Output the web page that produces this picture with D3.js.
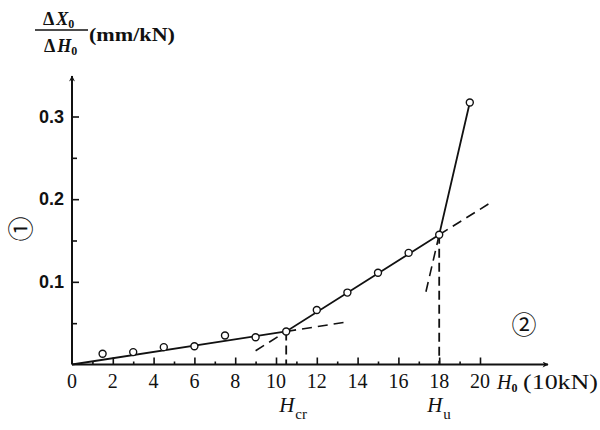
<!DOCTYPE html>
<html>
<head>
<meta charset="utf-8">
<script src="https://cdn.jsdelivr.net/npm/d3@7"></script>
<style>
body{margin:0;background:#fff;}
svg text{font-family:"Liberation Serif","Times New Roman",serif;fill:#111;}
</style>
</head>
<body>
<svg id="c" width="600" height="430"></svg>
<script>
// Data
const loadH = [1.5, 3.0, 4.5, 6.0, 7.5, 9.0, 10.5, 12.0, 13.5, 15.0, 16.5, 18.0, 19.5];
const ratio = [0.013, 0.015, 0.021, 0.022, 0.035, 0.033, 0.040, 0.066, 0.087, 0.111, 0.135, 0.157, 0.317];
// fitted solid polyline (origin -> Hcr -> Hu -> last)
const fitX = [0, 10.5, 18.0, 19.5];
const fitY = [0, 0.040, 0.157, 0.317];
// dashed extensions [x1,y1,x2,y2]
const dashX1 = [10.5, 9.0, 18.0, 17.35];
const dashY1 = [0.040, 0.0166, 0.157, 0.088];
const dashX2 = [13.5, 10.5, 20.6, 18.0];
const dashY2 = [0.0515, 0.040, 0.197, 0.157];
const xMajor = [2, 4, 6, 8, 10, 12, 14, 16, 18, 20];
const xLabels = ["0","2","4","6","8","10","12","14","16","18","20"];
const xMinor = [1, 3, 5, 7, 9, 11, 13, 15, 17, 19];
const yMajor = [0.1, 0.2, 0.3];
const yMinor = [0.05, 0.15, 0.25];
const Hcr = 10.5, Hu = 18.0;

const svg = d3.select("#c");
const x = d3.scaleLinear().domain([0, 20]).range([72, 480]);
const y = d3.scaleLinear().domain([0, 0.3]).range([364.5, 116.5]);
const X0 = x(0), Y0 = y(0);

svg.append("defs").append("marker").attr("id","arr").attr("viewBox","0 0 10 10")
  .attr("refX",9).attr("refY",5).attr("markerWidth",12).attr("markerHeight",6)
  .attr("markerUnits","userSpaceOnUse").attr("orient","auto")
  .append("path").attr("d","M0,0 L10,5 L0,10 L3,5 Z").attr("fill","#111");

// axes lines
svg.append("line").attr("x1",X0).attr("y1",Y0).attr("x2",548).attr("y2",Y0)
  .attr("stroke","#111").attr("stroke-width",2).attr("marker-end","url(#arr)");
svg.append("line").attr("x1",X0).attr("y1",Y0).attr("x2",X0).attr("y2",76)
  .attr("stroke","#111").attr("stroke-width",2).attr("marker-end","url(#arr)");

// x ticks
const gx = svg.append("g").attr("transform",`translate(0,${Y0})`)
  .call(d3.axisBottom(x).tickValues(xMajor).tickSize(-7).tickFormat(""));
gx.select(".domain").remove();
gx.selectAll("line").attr("stroke","#111").attr("stroke-width",1.6);
const gxm = svg.append("g").attr("transform",`translate(0,${Y0})`)
  .call(d3.axisBottom(x).tickValues(xMinor).tickSize(-3).tickFormat(""));
gxm.select(".domain").remove();
gxm.selectAll("line").attr("stroke","#111").attr("stroke-width",1.6);
svg.append("g").selectAll("text").data(xLabels).join("text")
  .attr("x",(d)=>x(+d)).attr("y",Y0+23).attr("text-anchor","middle")
  .attr("font-size",20).text(d=>d);

// y ticks
const gy = svg.append("g").attr("transform",`translate(${X0},0)`)
  .call(d3.axisLeft(y).tickValues(yMajor).tickSize(-7).tickFormat(""));
gy.select(".domain").remove();
gy.selectAll("line").attr("stroke","#111").attr("stroke-width",1.6);
const gym = svg.append("g").attr("transform",`translate(${X0},0)`)
  .call(d3.axisLeft(y).tickValues(yMinor).tickSize(-5).tickFormat(""));
gym.select(".domain").remove();
gym.selectAll("line").attr("stroke","#111").attr("stroke-width",1.6);
svg.append("g").selectAll("text").data(yMajor).join("text")
  .attr("x",X0-8).attr("y",d=>y(d)+6).attr("text-anchor","end")
  .style("font-family","'Liberation Sans',Arial,sans-serif").attr("font-weight","bold")
  .attr("font-size",18).text(d=>d3.format(".1f")(d));

// fitted solid line
const fit = fitX.map((v,i)=>[v, fitY[i]]);
svg.append("path").datum(fit)
  .attr("d", d3.line().x(d=>x(d[0])).y(d=>y(d[1])))
  .attr("fill","none").attr("stroke","#111").attr("stroke-width",1.8);

// dashed extensions
svg.append("g").selectAll("line").data(dashX1).join("line")
  .attr("x1",(d)=>x(d)).attr("y1",(d,i)=>y(dashY1[i]))
  .attr("x2",(d,i)=>x(dashX2[i])).attr("y2",(d,i)=>y(dashY2[i]))
  .attr("stroke","#111").attr("stroke-width",1.6).attr("stroke-dasharray","10,6");

// vertical dashed lines
svg.append("g").selectAll("line").data([[Hcr,0.040],[Hu,0.157]]).join("line")
  .attr("x1",d=>x(d[0])).attr("x2",d=>x(d[0])).attr("y1",d=>y(d[1])).attr("y2",Y0)
  .attr("stroke","#111").attr("stroke-width",1.8).attr("stroke-dasharray","9,5");

// points
svg.append("g").selectAll("circle").data(loadH).join("circle")
  .attr("cx",d=>x(d)).attr("cy",(d,i)=>y(ratio[i])).attr("r",3.5)
  .attr("fill","#fff").attr("stroke","#111").attr("stroke-width",1.4);

// labels
const t1 = svg.append("text").attr("x",x(Hcr)-7).attr("y",412).attr("font-size",21);
t1.append("tspan").attr("font-style","italic").text("H");
t1.append("tspan").attr("font-size",15).attr("dy",7).attr("dx",1).text("cr");
const t2 = svg.append("text").attr("x",x(Hu)-12).attr("y",412).attr("font-size",21);
t2.append("tspan").attr("font-style","italic").text("H");
t2.append("tspan").attr("font-size",15).attr("dy",7).attr("dx",1).text("u");
const t3 = svg.append("text").attr("x",497).attr("y",Y0+24).attr("font-size",20);
t3.append("tspan").attr("font-style","italic").text("H");
t3.append("tspan").attr("font-size",12).attr("dy",3).attr("font-weight","bold").text("0");
svg.append("text").attr("x",523).attr("y",Y0+24).attr("font-size",20)
  .attr("textLength",75).attr("lengthAdjust","spacingAndGlyphs").text("(10kN)");

svg.append("text").attr("x",524).attr("y",323).attr("text-anchor","middle").attr("dominant-baseline","central")
  .attr("font-size",25).style("font-family","'Noto Sans CJK SC',sans-serif").text("②");
svg.append("text").attr("transform","translate(19,229) rotate(-90)").attr("text-anchor","middle")
  .attr("dominant-baseline","central")
  .attr("font-size",25).style("font-family","'Noto Sans CJK SC',sans-serif").text("①");

// y title fraction
const num = svg.append("text").attr("x",43).attr("y",25).attr("font-size",18).attr("font-weight","bold");
num.append("tspan").text("Δ");
num.append("tspan").attr("font-style","italic").attr("dx",2).text("X");
num.append("tspan").attr("font-size",12).attr("dy",3).text("0");
svg.append("line").attr("x1",35).attr("x2",88).attr("y1",30).attr("y2",30).attr("stroke","#111").attr("stroke-width",1.3);
const den = svg.append("text").attr("x",44).attr("y",52).attr("font-size",18).attr("font-weight","bold");
den.append("tspan").text("Δ");
den.append("tspan").attr("font-style","italic").attr("dx",2).text("H");
den.append("tspan").attr("font-size",12).attr("dy",3).text("0");
svg.append("text").attr("x",89).attr("y",41).attr("font-size",18).attr("font-weight","bold")
  .attr("textLength",86).attr("lengthAdjust","spacingAndGlyphs").text("(mm/kN)");
</script>
</body>
</html>
